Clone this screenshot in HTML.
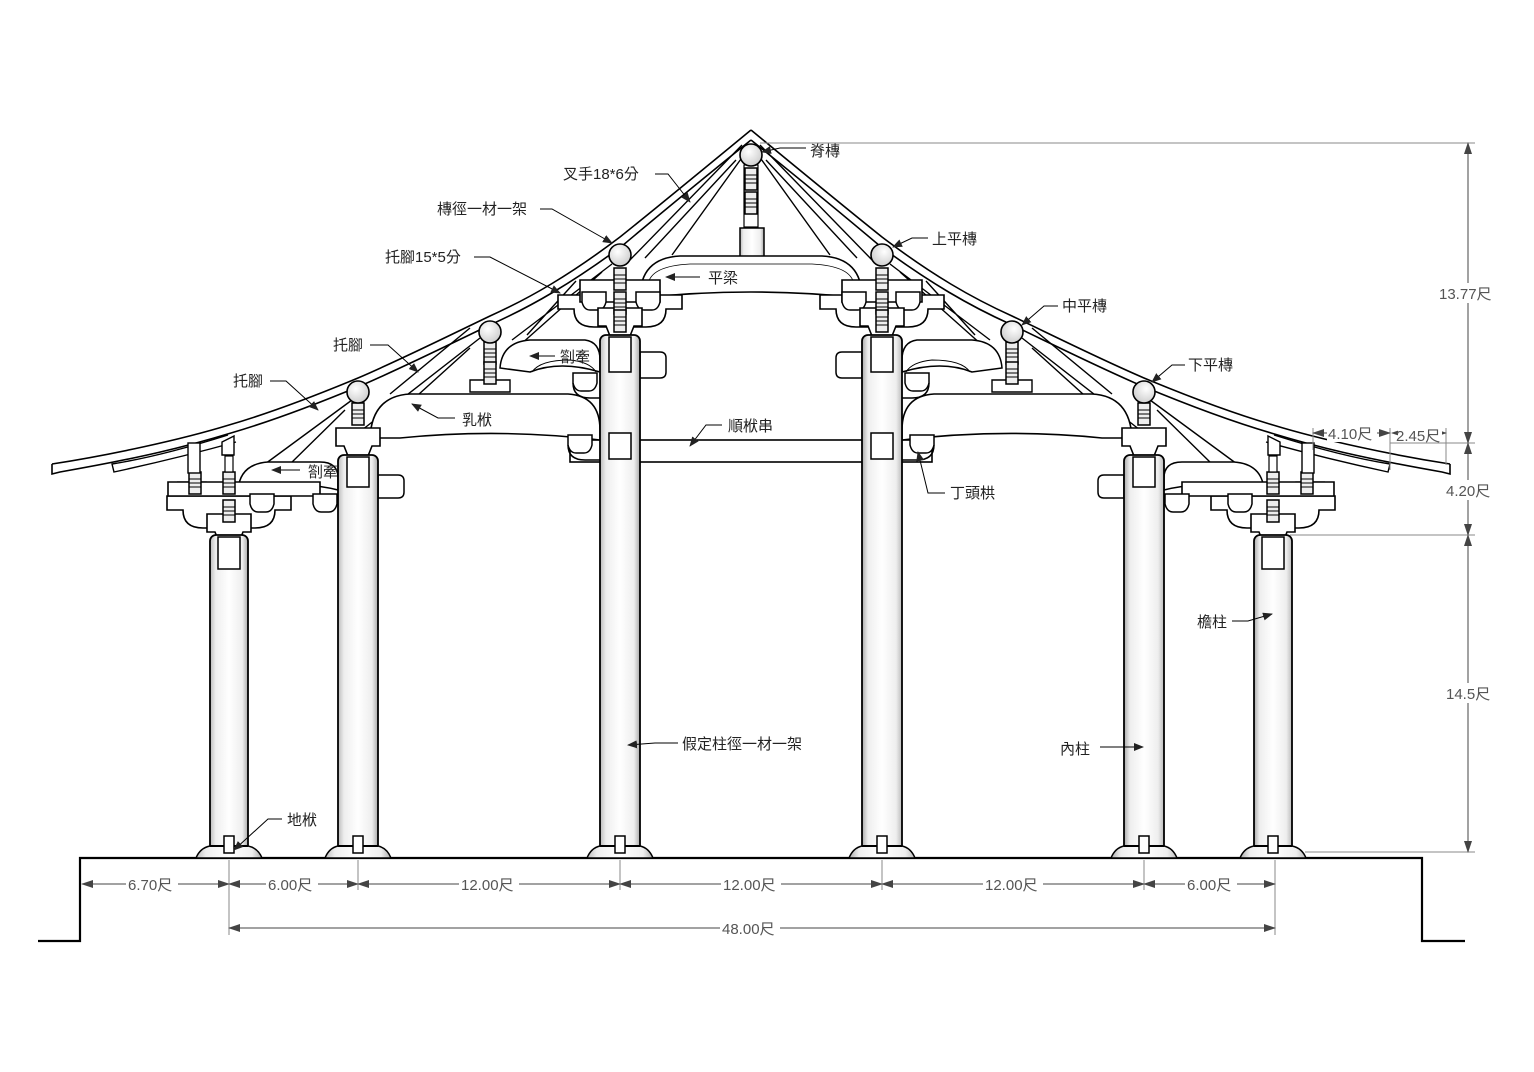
<!DOCTYPE html>
<html><head><meta charset="utf-8"><style>
html,body{margin:0;padding:0;background:#fff;}
svg{display:block;}
text{font-family:"Liberation Sans","Noto Sans CJK TC",sans-serif;font-size:15px;fill:#222;}
.d{fill:#555;}
</style></head><body>
<svg width="1534" height="1072" viewBox="0 0 1534 1072" xmlns="http://www.w3.org/2000/svg">
<defs>
<linearGradient id="col" x1="0" x2="1" y1="0" y2="0">
<stop offset="0" stop-color="#bbb"/><stop offset="0.15" stop-color="#eee"/><stop offset="0.5" stop-color="#fff"/><stop offset="0.85" stop-color="#eee"/><stop offset="1" stop-color="#aaa"/>
</linearGradient>
<radialGradient id="ball" cx="0.4" cy="0.35" r="0.7"><stop offset="0" stop-color="#fff"/><stop offset="1" stop-color="#ccc"/></radialGradient>
<marker id="ar" markerWidth="10" markerHeight="8" refX="9" refY="4" orient="auto" markerUnits="userSpaceOnUse"><path d="M0,0 L10,4 L0,8z" fill="#222"/></marker>
<marker id="da" markerWidth="12" markerHeight="8" refX="11" refY="4" orient="auto" markerUnits="userSpaceOnUse"><path d="M0,0 L12,4 L0,8z" fill="#444"/></marker>
<marker id="ds" markerWidth="12" markerHeight="8" refX="1" refY="4" orient="auto" markerUnits="userSpaceOnUse"><path d="M12,0 L0,4 L12,8z" fill="#444"/></marker>
<g id="bolt"><rect x="-6" y="0" width="12" height="22" fill="#eee" stroke="#000" stroke-width="1.5"/><line x1="-6" y1="7" x2="6" y2="7" stroke="#000"/><line x1="-6" y1="11" x2="6" y2="11" stroke="#000"/><line x1="-6" y1="15" x2="6" y2="15" stroke="#000"/></g>
<g id="dou"><path d="M-22,0 h44 v18 h-8 l-4,10 h-20 l-4,-10 h-8z" fill="#fff" stroke="#000" stroke-width="1.6"/></g>
<g id="arm"><path d="M-62,0 h124 v14 h-16 q0,18 -20,18 h-52 q-20,0 -20,-18 h-16z" fill="#fff" stroke="#000" stroke-width="1.6"/></g>
<g id="sdou"><path d="M-12,0 h24 v10 q-2,8 -8,8 h-8 q-6,0 -8,-8z" fill="#fff" stroke="#000" stroke-width="1.5"/></g>
</defs>

<!-- platform -->
<path d="M38,941 H80 V858 H1422 V941 H1465" fill="none" stroke="#000" stroke-width="2.2"/>

<!-- center beams (not mirrored) -->
<rect x="740" y="228" width="24" height="30" fill="url(#col)" stroke="#000" stroke-width="1.5"/>
<use href="#bolt" x="751" y="168"/><use href="#bolt" x="751" y="192"/>
<rect x="744" y="165" width="14" height="62" fill="none" stroke="#000" stroke-width="1.2"/>
<path d="M640,298 Q640,258 680,256 H822 Q862,258 862,298 Q751,286 640,298Z" fill="#fff" stroke="#000" stroke-width="1.6"/>
<path d="M648,285 Q650,266 690,264 H812 Q852,266 854,285" fill="none" stroke="#000" stroke-width="0.8"/>
<rect x="570" y="440" width="362" height="22" fill="#fff" stroke="#000" stroke-width="1.6"/>

<!-- left half, mirrored -->
<g id="half">
 <!-- roof -->
 <path d="M751,130 C700,172 660,205 620,237 C570,275 530,298 490,316 C440,340 400,360 358,378 C310,398 270,413 229,425 C180,440 110,455 52,464" fill="none" stroke="#000" stroke-width="1.6"/>
 <path d="M751,140 C700,181 660,214 622,246 C572,283 532,306 492,324 C442,348 402,368 360,386 C312,406 272,421 231,433 C185,447 140,458 60,472 L52,474 L52,464" fill="none" stroke="#000" stroke-width="1.6"/>
 <path d="M228,435 C190,447 150,458 112,464 L114,472 C160,462 200,452 236,442" fill="#fff" stroke="#000" stroke-width="1.4"/>
 <!-- struts -->
 <path d="M742,145 L628,262 M746,152 L672,255 M736,160 L645,258" stroke="#000" stroke-width="1.4" fill="none"/>
 <path d="M612,264 L512,340 M602,272 L520,345 M576,281 L527,335" stroke="#000" stroke-width="1.4" fill="none"/>
 <path d="M480,338 L362,430 M470,348 L377,432 M470,328 L390,394" stroke="#000" stroke-width="1.4" fill="none"/>
 <path d="M352,400 L265,464 M345,410 L288,466" stroke="#000" stroke-width="1.4" fill="none"/>
 <!-- 乳栿 -->
 <path d="M370,438 Q372,396 410,394 H568 Q600,396 600,430 V440 Q500,428 400,438Z" fill="#fff" stroke="#000" stroke-width="1.6"/>
 <!-- upper 劄牽 -->
 <path d="M500,368 Q502,342 530,340 H585 Q600,342 600,360 V372 Q560,360 530,372Z" fill="#fff" stroke="#000" stroke-width="1.5"/>
 <path d="M532,372 Q540,360 570,360 Q590,362 596,372" fill="none" stroke="#000" stroke-width="0.9"/>
 <!-- lower 劄牽 -->
 <path d="M238,490 Q240,464 268,462 H320 Q338,462 338,478 V490 Q300,480 262,492Z" fill="#fff" stroke="#000" stroke-width="1.5"/>
 <!-- side blocks -->
 <path d="M378,475 H398 Q404,475 404,481 V492 Q404,498 398,498 H378Z" fill="#fff" stroke="#000" stroke-width="1.5"/>
 <path d="M640,352 H660 Q666,352 666,358 V372 Q666,378 660,378 H640Z" fill="#fff" stroke="#000" stroke-width="1.5"/>
 <path d="M178,482 H206 V498 H186Z" fill="#fff" stroke="#000" stroke-width="1.3"/>
 <!-- bracket sets -->
 <use href="#arm" x="620" y="295"/>
 <path d="M580,280 H660 V302 H580Z" fill="#fff" stroke="#000" stroke-width="1.6"/>
 <use href="#sdou" x="594" y="292"/><use href="#sdou" x="648" y="292"/>
 <use href="#dou" x="620" y="308"/>
 <use href="#bolt" x="620" y="268"/><use href="#bolt" x="620" y="292"/><use href="#bolt" x="620" y="310"/>
 <use href="#sdou" x="585" y="373"/><path d="M573,383 Q573,398 590,398 H600" fill="none" stroke="#000" stroke-width="1.5"/>
 <use href="#sdou" x="580" y="435"/><path d="M568,445 Q568,460 585,460 H600" fill="none" stroke="#000" stroke-width="1.5"/>
 <path d="M470,380 H510 V392 H470Z" fill="#fff" stroke="#000" stroke-width="1.4"/>
 <use href="#bolt" x="490" y="342"/><use href="#bolt" x="490" y="362"/>
 <use href="#dou" x="358" y="428"/>
 <use href="#bolt" x="358" y="403"/>
 <use href="#arm" x="229" y="496"/>
 <path d="M168,482 H320 V496 H168Z" fill="#fff" stroke="#000" stroke-width="1.6"/>
 <use href="#sdou" x="262" y="494"/><use href="#sdou" x="325" y="494"/>
 <use href="#dou" x="229" y="514"/>
 <use href="#bolt" x="195" y="472"/><use href="#bolt" x="229" y="472"/><use href="#bolt" x="229" y="500"/>
 <rect x="188" y="443" width="12" height="30" fill="#fff" stroke="#000" stroke-width="1.4"/>
 <path d="M222,442 L234,436 V455 H222Z" fill="#fff" stroke="#000" stroke-width="1.4"/>
 <rect x="225" y="456" width="8" height="16" fill="#fff" stroke="#000" stroke-width="1.2"/>
 <!-- purlins -->
 <circle cx="620" cy="255" r="11" fill="url(#ball)" stroke="#000" stroke-width="1.6"/>
 <circle cx="490" cy="332" r="11" fill="url(#ball)" stroke="#000" stroke-width="1.6"/>
 <circle cx="358" cy="392" r="11" fill="url(#ball)" stroke="#000" stroke-width="1.6"/>
 <!-- columns -->
 <rect x="210" y="535" width="38" height="317" rx="6" fill="url(#col)" stroke="#000" stroke-width="1.8"/>
 <rect x="218" y="537" width="22" height="32" fill="#fff" stroke="#000" stroke-width="1.5"/>
 <rect x="338" y="455" width="40" height="397" rx="6" fill="url(#col)" stroke="#000" stroke-width="1.8"/>
 <rect x="347" y="457" width="22" height="30" fill="#fff" stroke="#000" stroke-width="1.5"/>
 <rect x="600" y="335" width="40" height="517" rx="6" fill="url(#col)" stroke="#000" stroke-width="1.8"/>
 <rect x="609" y="337" width="22" height="35" fill="#fff" stroke="#000" stroke-width="1.5"/>
 <rect x="609" y="433" width="22" height="26" fill="#fff" stroke="#000" stroke-width="1.5"/>
 <!-- bases -->
 <path d="M196,858 Q200,848 210,846 H248 Q258,848 262,858Z" fill="url(#col)" stroke="#000" stroke-width="1.5"/>
 <path d="M325,858 Q329,848 338,846 H378 Q387,848 391,858Z" fill="url(#col)" stroke="#000" stroke-width="1.5"/>
 <path d="M587,858 Q591,848 600,846 H640 Q649,848 653,858Z" fill="url(#col)" stroke="#000" stroke-width="1.5"/>
 <line x1="210" y1="846" x2="248" y2="846" stroke="#000" stroke-width="2"/>
 <line x1="338" y1="846" x2="378" y2="846" stroke="#000" stroke-width="2"/>
 <line x1="600" y1="846" x2="640" y2="846" stroke="#000" stroke-width="2"/>
 <rect x="224" y="836" width="10" height="17" fill="#fff" stroke="#000" stroke-width="1.5"/>
 <rect x="353" y="836" width="10" height="17" fill="#fff" stroke="#000" stroke-width="1.5"/>
 <rect x="615" y="836" width="10" height="17" fill="#fff" stroke="#000" stroke-width="1.5"/>
</g>
<use href="#half" transform="translate(1502,0) scale(-1,1)"/>
<circle cx="751" cy="155" r="11" fill="url(#ball)" stroke="#000" stroke-width="1.6"/>

<!-- right dimensions -->
<g stroke="#888" stroke-width="1">
<line x1="760" y1="143" x2="1475" y2="143"/>
<line x1="1390" y1="443" x2="1475" y2="443"/>
<line x1="1290" y1="535" x2="1475" y2="535"/>
<line x1="1305" y1="852" x2="1475" y2="852"/>
<line x1="1313" y1="428" x2="1313" y2="450"/>
<line x1="1390" y1="428" x2="1390" y2="470"/>
<line x1="1446" y1="428" x2="1446" y2="465"/>
<line x1="229" y1="860" x2="229" y2="935"/>
<line x1="1275" y1="860" x2="1275" y2="935"/>
<line x1="620" y1="860" x2="620" y2="890"/><line x1="882" y1="860" x2="882" y2="890"/>
<line x1="358" y1="860" x2="358" y2="890"/><line x1="1144" y1="860" x2="1144" y2="890"/>
</g>
<g stroke="#444" stroke-width="1" fill="none">
<line x1="1468" y1="143" x2="1468" y2="443" marker-start="url(#ds)" marker-end="url(#da)"/>
<line x1="1468" y1="443" x2="1468" y2="535" marker-start="url(#ds)" marker-end="url(#da)"/>
<line x1="1468" y1="535" x2="1468" y2="852" marker-start="url(#ds)" marker-end="url(#da)"/>
<line x1="1313" y1="433" x2="1390" y2="433" marker-start="url(#ds)" marker-end="url(#da)"/>
<line x1="1392" y1="433" x2="1446" y2="433" marker-start="url(#ds)" marker-end="url(#da)"/>
<line x1="82" y1="884" x2="229" y2="884" marker-start="url(#ds)" marker-end="url(#da)"/>
<line x1="229" y1="884" x2="358" y2="884" marker-start="url(#ds)" marker-end="url(#da)"/>
<line x1="358" y1="884" x2="620" y2="884" marker-start="url(#ds)" marker-end="url(#da)"/>
<line x1="620" y1="884" x2="882" y2="884" marker-start="url(#ds)" marker-end="url(#da)"/>
<line x1="882" y1="884" x2="1144" y2="884" marker-start="url(#ds)" marker-end="url(#da)"/>
<line x1="1144" y1="884" x2="1275" y2="884" marker-start="url(#ds)" marker-end="url(#da)"/>
<line x1="229" y1="928" x2="1275" y2="928" marker-start="url(#ds)" marker-end="url(#da)"/>
</g>
<g class="d" font-size="15">
<rect x="1437" y="283" width="62" height="20" fill="#fff"/><text class="d" x="1439" y="299">13.77尺</text>
<rect x="1444" y="480" width="52" height="20" fill="#fff"/><text class="d" x="1446" y="496">4.20尺</text>
<rect x="1444" y="683" width="52" height="20" fill="#fff"/><text class="d" x="1446" y="699">14.5尺</text>
<rect x="1327" y="424" width="50" height="18" fill="#fff"/><text class="d" x="1328" y="439">4.10尺</text>
<rect x="1398" y="424" width="44" height="18" fill="#fff"/><text class="d" x="1396" y="441">2.45尺</text>
<rect x="126" y="874" width="52" height="20" fill="#fff"/><text class="d" x="128" y="890">6.70尺</text>
<rect x="266" y="874" width="52" height="20" fill="#fff"/><text class="d" x="268" y="890">6.00尺</text>
<rect x="459" y="874" width="60" height="20" fill="#fff"/><text class="d" x="461" y="890">12.00尺</text>
<rect x="721" y="874" width="60" height="20" fill="#fff"/><text class="d" x="723" y="890">12.00尺</text>
<rect x="983" y="874" width="60" height="20" fill="#fff"/><text class="d" x="985" y="890">12.00尺</text>
<rect x="1185" y="874" width="52" height="20" fill="#fff"/><text class="d" x="1187" y="890">6.00尺</text>
<rect x="720" y="918" width="60" height="20" fill="#fff"/><text class="d" x="722" y="934">48.00尺</text>
</g>

<!-- leaders -->
<g stroke="#000" stroke-width="1" fill="none">
<path d="M806,148 H780 L762,152" marker-end="url(#ar)"/>
<path d="M655,174 H668 L690,202" marker-end="url(#ar)"/>
<path d="M540,209 H552 L612,243" marker-end="url(#ar)"/>
<path d="M928,238 H912 L893,247" marker-end="url(#ar)"/>
<path d="M474,257 H490 L560,293" marker-end="url(#ar)"/>
<path d="M700,277 H666" marker-end="url(#ar)"/>
<path d="M1058,306 H1044 L1022,325" marker-end="url(#ar)"/>
<path d="M370,345 H388 L418,372" marker-end="url(#ar)"/>
<path d="M555,356 H530" marker-end="url(#ar)"/>
<path d="M1185,365 H1172 L1152,382" marker-end="url(#ar)"/>
<path d="M270,381 H286 L318,410" marker-end="url(#ar)"/>
<path d="M455,418 H438 L412,404" marker-end="url(#ar)"/>
<path d="M722,425 H706 L690,446" marker-end="url(#ar)"/>
<path d="M300,470 H272" marker-end="url(#ar)"/>
<path d="M945,493 H928 L918,452" marker-end="url(#ar)"/>
<path d="M1232,621 H1248 L1272,614" marker-end="url(#ar)"/>
<path d="M1100,747 H1143" marker-end="url(#ar)"/>
<path d="M678,743 H655 L628,745" marker-end="url(#ar)"/>
<path d="M282,819 H268 L234,850" marker-end="url(#ar)"/>
</g>
<g>
<text x="810" y="156">脊槫</text>
<text x="563" y="179">叉手18*6分</text>
<text x="437" y="214">槫徑一材一架</text>
<text x="932" y="244">上平槫</text>
<text x="385" y="262">托腳15*5分</text>
<text x="708" y="283">平梁</text>
<text x="1062" y="311">中平槫</text>
<text x="333" y="350">托腳</text>
<text x="560" y="362">劄牽</text>
<text x="1188" y="370">下平槫</text>
<text x="233" y="386">托腳</text>
<text x="462" y="425">乳栿</text>
<text x="728" y="431">順栿串</text>
<text x="308" y="477">劄牽</text>
<text x="950" y="498">丁頭栱</text>
<text x="1197" y="627">檐柱</text>
<text x="1060" y="754">內柱</text>
<text x="682" y="749">假定柱徑一材一架</text>
<text x="287" y="825">地栿</text>
</g>
</svg>
</body></html>
